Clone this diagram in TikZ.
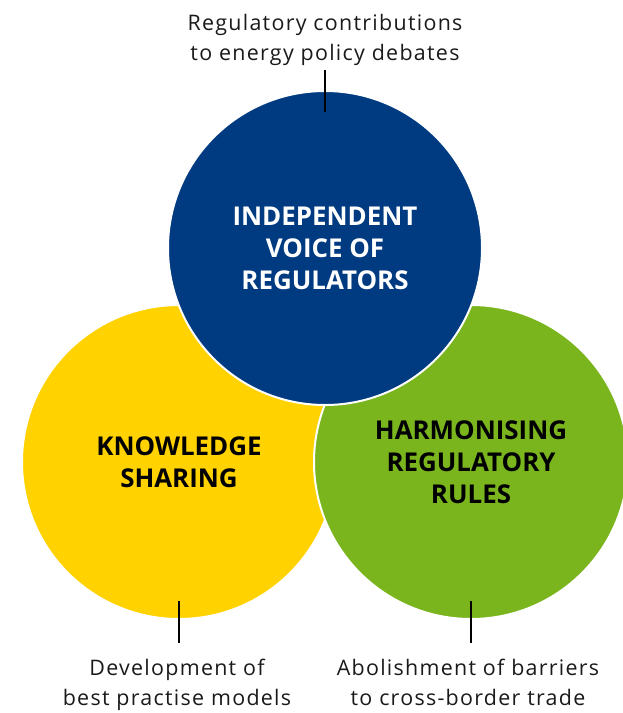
\documentclass[tikz,border=0pt]{standalone}
\usepackage{fontspec}
\setmainfont{Open Sans}
\newfontfamily\captionfont[LetterSpace=6]{Open Sans}
\usetikzlibrary{calc}
\definecolor{voiceblue}{RGB}{0,58,129}
\definecolor{sharingyellow}{RGB}{255,210,0}
\definecolor{rulesgreen}{RGB}{122,181,30}
\definecolor{captiongrey}{RGB}{26,26,26}

\begin{document}
\begin{tikzpicture}[x=1bp, y=-1bp,
	bubble/.style={circle, draw=white, line width=2bp, minimum size=314bp, inner sep=0pt,
		align=center, font=\fontsize{26}{32}\selectfont\bfseries},
	caption/.style={align=center, inner sep=0pt, text=captiongrey,
		font=\captionfont\fontsize{21.5}{30}\selectfont},
	pointer/.style={line width=1.2bp, black}]
			%%%%% START %%%%%
			
			\useasboundingbox (0,0) rectangle (623,713);
			\clip (0,0) rectangle (623,713);
			
			\node[bubble, fill=sharingyellow] (sharing) at (179,462) {KNOWLEDGE\\SHARING};
			\node[bubble, fill=rulesgreen] (rules) at (471,462) {HARMONISING\\REGULATORY\\RULES};
			\node[bubble, fill=voiceblue, text=white] (voice) at (325,248) {INDEPENDENT\\VOICE OF\\REGULATORS};
			
			\node[caption, anchor=north] (debates) at (325,13.8) {Regulatory contributions\\to energy policy debates};
			\node[caption, anchor=north] (practise) at (177,658.8) {Development of\\best practise models};
			\node[caption, anchor=north] (trade) at (468,658.8) {Abolishment of barriers\\to cross-border trade};
			
			\coordinate (debatesfoot) at ($(debates.south)+(0,4)$);
			\coordinate (practisetop) at ($(practise.north)+(0,-16)$);
			\coordinate (tradetop) at ($(trade.north)+(0,-16)$);
			
			\draw[pointer] (voice.north |- debatesfoot) -- ($(voice.north)+(0,22)$);
			\draw[pointer] ($(sharing.south)+(0,-19)$) -- (sharing.south |- practisetop);
			\draw[pointer] ($(rules.south)+(0,-19)$) -- (rules.south |- tradetop);
			
			%%%%% END %%%%%
\end{tikzpicture}
\end{document}
